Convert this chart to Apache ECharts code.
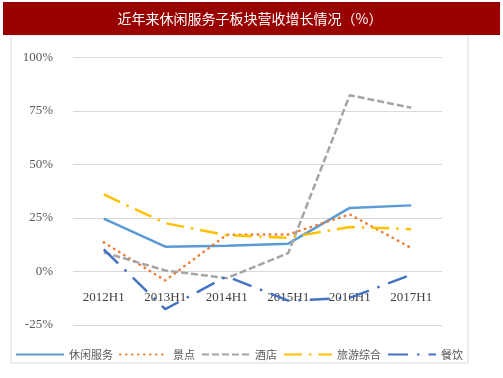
<!DOCTYPE html>
<html>
<head>
<meta charset="utf-8">
<script src="https://cdn.jsdelivr.net/npm/echarts@6/dist/echarts.min.js"></script>
<style>
    html, body { margin: 0; padding: 0; background: #fff; }
    #chart { width: 503px; height: 378px; }
</style>
</head>
<body>
<div id="chart"></div>
<script>
// 数据
const categories = ['2012H1', '2013H1', '2014H1', '2015H1', '2016H1', '2017H1'];
const xiuxian = [24.7, 11.6, 12.0, 13.0, 29.7, 30.9];
const jingdian = [13.6, -4.2, 17.2, 17.3, 26.7, 11.0];
const jiudian = [8.9, 0.5, -3.1, 8.6, 82.4, 76.5];
const lvyou = [36.0, 22.6, 16.9, 15.8, 20.8, 19.8];
const canyin = [10.3, -17.6, -2.3, -13.6, -12.3, -1.5];

const chart = echarts.init(document.getElementById('chart'));

const serif = '"Liberation Serif", "Times New Roman", serif';
const cjk = '"Noto Sans CJK SC", sans-serif';

const makeLine = (name, data, color, dash, cap) => ({
    name: name,
    type: 'line',
    data: data,
    symbol: 'none',
    lineStyle: {
        color: color,
        width: 2.5,
        type: dash,
        cap: cap || 'butt'
    },
    itemStyle: { color: color }
});

const option = {
    backgroundColor: '#fff',
    animation: false,
    graphic: [
        {
            type: 'rect',
            shape: { x: 11, y: 35, width: 457, height: 328 },
            style: { fill: 'none', stroke: '#d9d9d9', lineWidth: 1 },
            silent: true
        },
        {
            type: 'rect',
            shape: { x: 3, y: 2, width: 497, height: 33 },
            style: { fill: '#990000' },
            silent: true
        },
        {
            type: 'text',
            x: 250,
            y: 18.5,
            style: {
                text: '近年来休闲服务子板块营收增长情况（%）',
                fill: '#fff',
                font: '14px ' + cjk,
                align: 'center',
                verticalAlign: 'middle'
            }
        }
    ],
    grid: {
        left: 73,
        right: 61,
        top: 57.5,
        bottom: 53
    },
    legend: {
        left: 15,
        top: 349,
        padding: 0,
        itemWidth: 48,
        itemHeight: 6,
        itemGap: 6,
        itemStyle: { opacity: 0 },
        textStyle: {
            fontFamily: cjk,
            fontSize: 11,
            color: '#595959'
        }
    },
    xAxis: {
        type: 'category',
        data: categories,
        // 标签放在0刻度线处
        offset: -53.5,
        axisLine: { show: false },
        axisTick: { show: false },
        axisLabel: {
            margin: 20,
            fontFamily: serif,
            fontSize: 13,
            color: '#404040'
        }
    },
    yAxis: {
        type: 'value',
        min: -25,
        max: 100,
        interval: 25,
        axisLabel: {
            formatter: '{value}%',
            margin: 20,
            fontFamily: serif,
            fontSize: 13,
            color: '#595959'
        },
        splitLine: {
            lineStyle: { color: '#d9d9d9', width: 1 }
        }
    },
    series: [
        makeLine('休闲服务', xiuxian, '#5B9BD5', 'solid'),
        makeLine('景点', jingdian, '#ED7D31', [0.5, 5.5], 'round'),
        makeLine('酒店', jiudian, '#A5A5A5', [7, 3]),
        makeLine('旅游综合', lvyou, '#FFC000', [18, 7, 2.5, 7]),
        makeLine('餐饮', canyin, '#4472C4', [20, 9, 2.5, 9])
    ]
};

chart.setOption(option);
</script>
</body>
</html>
